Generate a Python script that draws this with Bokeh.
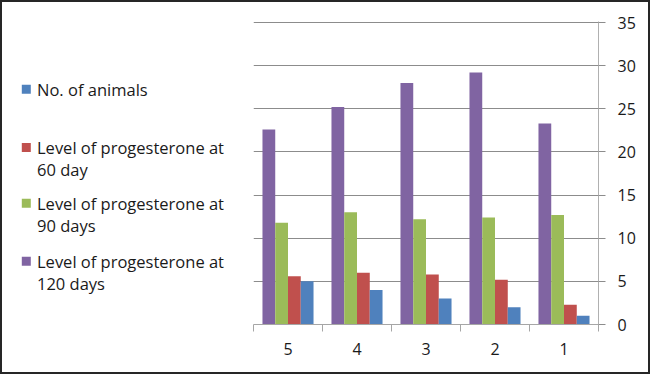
from bokeh.plotting import figure
from bokeh.layouts import row
from bokeh.models import Range1d, FixedTicker
from bokeh.core.properties import value
from bokeh.embed import file_html
from bokeh.resources import INLINE

# ---- data ----
categories = ["5", "4", "3", "2", "1"]
animals = [5, 4, 3, 2, 1]
prog_60 = [5.6, 6.0, 5.8, 5.2, 2.3]
prog_90 = [11.8, 13.0, 12.2, 12.4, 12.7]
prog_120 = [22.6, 25.2, 28.0, 29.2, 23.3]
y_ticks = [0, 5, 10, 15, 20, 25, 30, 35]

series_labels = [
    "No. of animals",
    "Level of progesterone at\n60 day",
    "Level of progesterone at\n90 days",
    "Level of progesterone at\n120 days",
]
series_colors = ["#4F81BD", "#C0504D", "#9BBB59", "#8064A2"]

FONT = "Open Sans"
TXT = "#1a1a1a"
H = 370
LW = 240
RW = 406
BT, BB = 19, 48   # top / bottom borders shared by both panels

# ---------- chart ----------
p = figure(width=RW, height=H, output_backend="svg", toolbar_location=None,
           title_location=None,
           x_range=Range1d(0, len(categories)), y_range=Range1d(0, 35.12),
           y_axis_location="right",
           min_border_left=11, min_border_right=50, min_border_top=BT, min_border_bottom=BB)
p.outline_line_color = None
p.background_fill_color = "white"
p.border_fill_color = "white"

centers = [i + 0.5 for i in range(len(categories))]
w = 0.185
offs = [-0.2775, -0.0925, 0.0925, 0.2775]
series = [prog_120, prog_90, prog_60, animals]
colors = [series_colors[3], series_colors[2], series_colors[1], series_colors[0]]
for vals, off, c in zip(series, offs, colors):
    p.vbar(x=[cx + off for cx in centers], top=vals, width=w, bottom=0,
           fill_color=c, line_color=None)

xa = p.xaxis[0]
xa.ticker = FixedTicker(ticks=centers, minor_ticks=list(range(len(categories) + 1)))
xa.major_label_overrides = {cx: lab for cx, lab in zip(centers, categories)}
xa.major_tick_out = 0
xa.major_tick_in = 0
xa.minor_tick_out = 7
xa.minor_tick_in = 0
xa.minor_tick_line_color = "#a6a6a6"
xa.axis_line_color = "#a6a6a6"
xa.major_label_standoff = 11
xa.major_label_text_font = FONT
xa.major_label_text_font_size = "16px"
xa.major_label_text_color = TXT

ya = p.yaxis[0]
ya.ticker = FixedTicker(ticks=y_ticks)
ya.axis_line_color = "#b0b0b0"
ya.major_tick_out = 7
ya.major_tick_in = 0
ya.major_tick_line_color = "#8c8c8c"
ya.minor_tick_line_color = None
ya.major_label_standoff = 12
ya.major_label_text_font = FONT
ya.major_label_text_font_size = "16px"
ya.major_label_text_color = TXT

p.xgrid.grid_line_color = None
p.ygrid.ticker = FixedTicker(ticks=y_ticks)
p.ygrid.grid_line_color = "#8c8c8c"

# ---------- legend panel (its frame is aligned with the chart frame) ----------
lg = figure(width=LW, height=H, output_backend="svg", toolbar_location=None,
            title_location=None,
            x_range=Range1d(2, 2 + LW), y_range=Range1d(H + 2 - BB, BT + 2),
            x_axis_location=None, y_axis_location=None,
            min_border_left=0, min_border_right=0, min_border_top=BT, min_border_bottom=BB)
lg.outline_line_color = None
lg.xgrid.grid_line_color = None
lg.ygrid.grid_line_color = None
lg.background_fill_color = "white"
lg.border_fill_color = "white"

item_y = [88.8, 147.0, 202.8, 260.8]   # layout: centre of each entry's first line
LINE = 22.0
lg.rect(x=[25.8] * len(series_labels), y=item_y, width=9, height=9,
        fill_color=series_colors, line_color=None)
tx, ty, tt = [], [], []
for lab, yy in zip(series_labels, item_y):
    for k, line in enumerate(lab.split("\n")):
        tx.append(36.5)
        ty.append(yy + k * LINE)
        tt.append(line)
lg.text(x=tx, y=ty, text=tt,
        text_font=value(FONT), text_font_size="16.5px", text_color=TXT,
        text_baseline="middle", text_align="left")

layout = row(lg, p, styles={"border": "2px solid #262626"})
open("out.html", "w").write(file_html(layout, INLINE))
